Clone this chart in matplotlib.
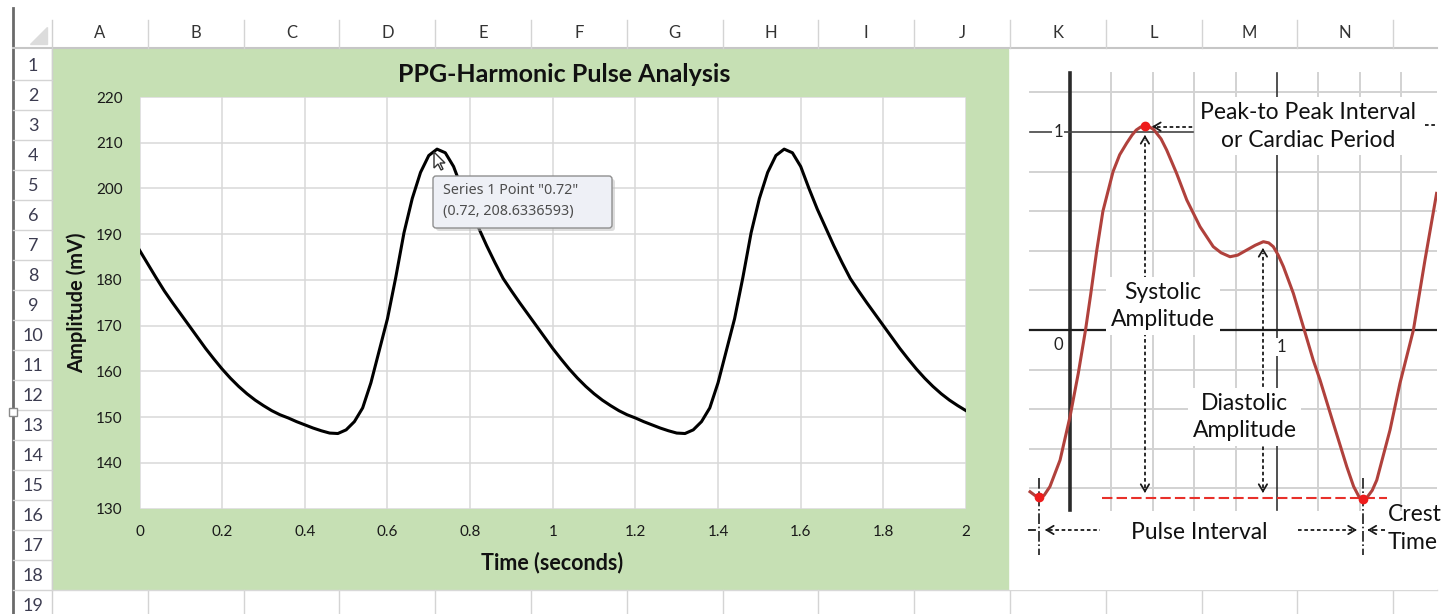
import numpy as np
import matplotlib
matplotlib.use('Agg')
import matplotlib.pyplot as plt
from matplotlib.patches import Rectangle, Polygon, FancyBboxPatch

plt.rcParams['font.family'] = ['Lato', 'DejaVu Sans']

W, H = 1450, 614

# --- chart data ---
time_s = np.round(np.arange(0, 2.001, 0.02), 2)
amplitude_mv = [
    186.5, 183.5, 180.5, 177.6, 175.0, 172.5, 170.0, 167.5, 165.0, 162.7,
    160.5, 158.5, 156.7, 155.1, 153.7, 152.5, 151.4, 150.5, 149.8, 149.0,
    148.3, 147.6, 147.0, 146.5, 146.4, 147.2, 149.0, 152.0, 157.5, 164.5,
    171.5, 180.5, 190.3, 197.8, 203.5, 207.2, 208.6, 207.8, 204.8, 200.0,
    195.5, 191.5, 187.5, 183.8, 180.3, 177.6, 175.0, 172.5, 170.0, 167.5,
    165.0, 162.7, 160.5, 158.5, 156.7, 155.1, 153.7, 152.5, 151.4, 150.5,
    149.8, 149.0, 148.3, 147.6, 147.0, 146.5, 146.4, 147.2, 149.0, 152.0,
    157.5, 164.5, 171.5, 180.5, 190.3, 197.8, 203.5, 207.2, 208.6, 207.8,
    204.8, 200.0, 195.5, 191.5, 187.5, 183.8, 180.3, 177.6, 175.0, 172.5,
    170.0, 167.5, 165.0, 162.7, 160.5, 158.5, 156.7, 155.1, 153.7, 152.5,
    151.4,
]
x_ticks = [0, 0.2, 0.4, 0.6, 0.8, 1, 1.2, 1.4, 1.6, 1.8, 2]
x_tick_labels = ['0', '0.2', '0.4', '0.6', '0.8', '1', '1.2', '1.4', '1.6', '1.8', '2']
y_ticks = [130, 140, 150, 160, 170, 180, 190, 200, 210, 220]
tooltip_x = 0.72
tooltip_y = 208.6336593

# --- right-hand diagram data (normalised pulse) ---
pulse_u = [-0.193, -0.170, -0.148, -0.125, -0.097, -0.048, 0.000, 0.040, 0.075, 0.100,
           0.129, 0.159, 0.208, 0.240, 0.274, 0.300, 0.320, 0.341, 0.362, 0.385,
           0.405, 0.440, 0.467, 0.515, 0.564, 0.628, 0.692, 0.730, 0.773, 0.810,
           0.854, 0.895, 0.934, 0.960, 0.982, 1.005, 1.031, 1.079, 1.127, 1.175,
           1.208, 1.272, 1.337, 1.370, 1.395, 1.414, 1.435, 1.460, 1.482, 1.546,
           1.594, 1.659, 1.715, 1.771]
pulse_v = [-0.817, -0.835, -0.845, -0.835, -0.791, -0.657, -0.438, -0.219, 0.000, 0.180,
           0.400, 0.600, 0.800, 0.885, 0.944, 0.985, 1.010, 1.025, 1.030, 1.025,
           1.012, 0.965, 0.909, 0.791, 0.657, 0.522, 0.421, 0.390, 0.370, 0.378,
           0.404, 0.428, 0.446, 0.440, 0.421, 0.380, 0.320, 0.185, 0.017, -0.152,
           -0.253, -0.471, -0.690, -0.790, -0.840, -0.855, -0.845, -0.810, -0.758, -0.505,
           -0.269, 0.000, 0.354, 0.690]
peak_pt = (0.362, 1.030)
trough_pts_u = [-0.148, 1.414]
trough_pts_v = [-0.845, -0.855]
systolic_u = 0.362
diastolic_u = 0.932
base_v = -0.850

col_letters = list('ABCDEFGHIJKLMN')
row_numbers = list(range(1, 20))


def px_rect(x0, y0, x1, y1):
    return [x0 / W, 1 - y1 / H, (x1 - x0) / W, (y1 - y0) / H]


fig = plt.figure(figsize=(W / 100, H / 100), dpi=100)
fig.patch.set_facecolor('white')

# ---------- spreadsheet background ----------
bg = fig.add_axes([0, 0, 1, 1])
bg.set_xlim(0, W)
bg.set_ylim(H, 0)
bg.axis('off')

col_left, col_w = 52, 95.8
row_top, row_h = 50, 30.0
grid_c = '#d4d4d4'

bg.add_patch(Rectangle((52, 49), 956, 540, color='#c6e0b4', zorder=0))
bg.plot([13, 13], [8, H], color='#6a6a6a', lw=2, zorder=1)
bg.plot([13, 1437], [48, 48], color='#c6c6c6', lw=1.5, zorder=1)
bg.plot([52, 52], [20, H], color='#d0d0d0', lw=1, zorder=1)
bg.add_patch(Polygon([[30, 44], [47, 44], [47, 27]], closed=True, color='#dcdcdc', zorder=1))

for k, letter in enumerate(col_letters):
    xc = col_left + col_w * (k + 0.5)
    bg.text(xc, 33, letter, ha='center', va='center', fontsize=12, color='#333333')
for k in range(15):
    xs = col_left + col_w * (k + 1)
    if xs < 1437:
        bg.plot([xs, xs], [20, 48], color=grid_c, lw=1, zorder=1)
        bg.plot([xs, xs], [590, H], color=grid_c, lw=1, zorder=1)
bg.plot([52, 1437], [590, 590], color='#d8d8d8', lw=1, zorder=1)

for k, r in enumerate(row_numbers):
    yc = row_top + row_h * (k + 0.5)
    bg.text(33, yc + 1, str(r), ha='center', va='center', fontsize=13, color='#3c3c50')
    bg.plot([13, 52], [row_top + row_h * (k + 1)] * 2, color=grid_c, lw=1, zorder=1)

# selection handle on the left border
bg.add_patch(Rectangle((9, 408), 8, 8, fc='white', ec='#8a8a8a', lw=1, zorder=3))

# ---------- chart ----------
bg.text(564, 75, 'PPG-Harmonic Pulse Analysis', ha='center', va='center',
        fontsize=18, weight='bold', color='#111111')
bg.text(552, 563, 'Time (seconds)', ha='center', va='center',
        fontsize=15.5, weight='bold', color='#111111')
bg.text(77, 303, 'Amplitude (mV)', ha='center', va='center', rotation=90,
        fontsize=14.5, weight='bold', color='#111111')

ax = fig.add_axes(px_rect(139.5, 97, 966, 508.5))
ax.set_facecolor('white')
ax.plot(time_s, amplitude_mv, color='black', lw=2.2, zorder=3)
ax.set_xlim(0, 2)
ax.set_ylim(130, 220)
ax.set_xticks(x_ticks)
ax.set_xticklabels(x_tick_labels)
ax.set_yticks(y_ticks)
ax.grid(True, color='#d9d9d9', lw=1.1, zorder=0)
ax.set_axisbelow(True)
for s in ax.spines.values():
    s.set_visible(False)
ax.tick_params(length=0, labelsize=11, labelcolor='#1a1a1a')
ax.tick_params(axis='y', pad=12)
ax.tick_params(axis='x', pad=12)

# ---------- overlay: tooltip and mouse pointer ----------
ov = fig.add_axes([0, 0, 1, 1])
ov.set_xlim(0, W)
ov.set_ylim(H, 0)
ov.axis('off')
ov.patch.set_alpha(0)
ov.add_patch(FancyBboxPatch((436, 179), 179, 52, boxstyle='round,pad=0,rounding_size=3',
                            fc='#bdbdbd', ec='none', alpha=0.5, zorder=4))
ov.add_patch(FancyBboxPatch((433, 176), 179, 52, boxstyle='round,pad=0,rounding_size=3',
                            fc='#eef0f6', ec='#8f8f8f', lw=1, zorder=5))
tip_font = ['Noto Sans', 'DejaVu Sans']
ov.text(443, 190, 'Series 1 Point "{}"'.format(tooltip_x), ha='left', va='center',
        fontsize=10.3, color='#4d4d4d', family=tip_font, zorder=6)
ov.text(443, 212, '({}, {})'.format(tooltip_x, tooltip_y), ha='left', va='center',
        fontsize=10.3, color='#4d4d4d', family=tip_font, zorder=6)
cur = np.array([[0, 0], [0, 16], [4, 12], [7, 18], [9, 17], [6, 11], [11, 11]]) + [434, 152]
ov.add_patch(Polygon(cur, closed=True, fc='white', ec='#333333', lw=1, zorder=6))

# ---------- right-hand diagram ----------
DX0, DXS, DY0, DYS = 1070, 207.0, 330, 198.0
dx = fig.add_axes(px_rect(1010, 50, 1437, 590))
dx.set_xlim((1010 - DX0) / DXS, (1437 - DX0) / DXS)
dx.set_ylim((DY0 - 590) / DYS, (DY0 - 50) / DYS)
dx.axis('off')
dx.add_patch(Rectangle((0, 0), 1, 1, transform=dx.transAxes, fc='white', ec='none', zorder=0))

u_left, u_right = -0.193, 1.80
v_bot, v_top = -0.909, 1.298
for gv in [-0.8, -0.6, -0.4, -0.2, 0.2, 0.4, 0.6, 0.8, 1.2]:
    dx.plot([u_left, u_right], [gv, gv], color='#d2d2d2', lw=1.4, zorder=1)
for gu in [0.2, 0.4, 0.6, 0.8, 1.2, 1.4, 1.6]:
    dx.plot([gu, gu], [v_bot, v_top], color='#d2d2d2', lw=1.4, zorder=1)
dx.plot([0, 0], [v_bot, v_top], color='#2a2a2a', lw=2.6, zorder=2)
dx.plot([1, 1], [v_bot, v_top], color='#333333', lw=1.2, zorder=2)
dx.plot([u_left, u_right], [0, 0], color='#1e1e1e', lw=1.6, zorder=2)
dx.plot([u_left, 0.594], [1, 1], color='#444444', lw=1.2, zorder=2)
dx.text(-0.058, 1.0, '1', ha='center', va='center', fontsize=12, color='#222222', zorder=2,
        bbox=dict(boxstyle='square,pad=0.05', fc='white', ec='none'))
dx.text(-0.058, -0.076, '0', ha='center', va='center', fontsize=12, color='#222222', zorder=2)
dx.text(1.019, -0.086, '1', ha='center', va='center', fontsize=12, color='#222222', zorder=2,
        bbox=dict(boxstyle='square,pad=0.05', fc='white', ec='none'))


def arrow_head(u, v, du, dv):
    # short solid piece pointing in direction (du, dv) given in pixels
    dx.annotate('', xy=(u, v), xytext=(u - du * 3 / DXS, v - dv * 3 / DYS),
                arrowprops=dict(arrowstyle='->,head_length=0.5,head_width=0.3',
                                color='#1a1a1a', lw=1.3, shrinkA=0, shrinkB=0),
                zorder=2)


dot = (0, (2, 1.5))
ink = '#1a1a1a'
# systolic amplitude arrow
dx.plot([systolic_u, systolic_u], [-0.80, 0.96], color=ink, lw=1.3, ls=dot, zorder=2)
arrow_head(systolic_u, 0.985, 0, 1)
arrow_head(systolic_u, -0.823, 0, -1)
# diastolic amplitude arrow
dx.plot([diastolic_u, diastolic_u], [-0.80, 0.39], color=ink, lw=1.3, ls=dot, zorder=2)
arrow_head(diastolic_u, 0.414, 0, 1)
arrow_head(diastolic_u, -0.823, 0, -1)
# peak-to-peak interval arrow
dx.plot([0.42, 0.60], [1.027, 1.027], color=ink, lw=1.3, ls=dot, zorder=2)
arrow_head(0.396, 1.027, -1, 0)
dx.plot([1.715, 1.77], [1.035, 1.035], color=ink, lw=1.3, ls=dot, zorder=2)
# pulse interval arrows
dx.plot([-0.10, 0.145], [-1.010, -1.010], color=ink, lw=1.3, ls=dot, zorder=2)
arrow_head(-0.121, -1.010, -1, 0)
dx.plot([1.101, 1.365], [-1.010, -1.010], color=ink, lw=1.3, ls=dot, zorder=2)
arrow_head(1.386, -1.010, 1, 0)
# crest time arrow
dx.plot([1.46, 1.522], [-1.010, -1.010], color=ink, lw=1.3, ls=(0, (3, 2)), zorder=2)
arrow_head(1.437, -1.010, -1, 0)
dx.plot([-0.198, -0.170], [-1.010, -1.010], color=ink, lw=1.3, zorder=2)
# crest markers
for tu in trough_pts_u:
    dx.plot([tu, tu], [-0.747, -1.136], color=ink, lw=1.2, ls='-.', zorder=2)
# baseline
dx.plot([0.155, 1.531], [base_v, base_v], color='#e8302a', lw=1.5, ls=(0, (5, 2)), zorder=4)

box = dict(boxstyle='square,pad=0.2', fc='white', ec='none')
txt_kw = dict(fontsize=16.5, color='#111111', zorder=3)
dx.text(1.150, 1.028, 'Peak-to Peak Interval\nor Cardiac Period', ha='center', va='center',
        linespacing=1.4, bbox=box, **txt_kw)
dx.text(0.449, 0.121, 'Systolic\nAmplitude', ha='center', va='center',
        linespacing=1.4, bbox=box, **txt_kw)
dx.text(0.845, -0.439, 'Diastolic\nAmplitude', ha='center', va='center',
        linespacing=1.4, bbox=box, **txt_kw)
dx.text(0.623, -1.025, 'Pulse Interval', ha='center', va='center', bbox=box, **txt_kw)
dx.text(1.536, -1.003, 'Crest\nTime', ha='left', va='center', linespacing=1.4, **txt_kw)

dx.plot(pulse_u, pulse_v, color='#b0413c', lw=2.2, zorder=4)
dx.plot([peak_pt[0]], [peak_pt[1]], 'o', color='#ee1c1c', ms=6, zorder=5)
dx.plot(trough_pts_u, trough_pts_v, 'o', color='#ee1c1c', ms=6, zorder=5)

fig.savefig('out.png', dpi=100)
